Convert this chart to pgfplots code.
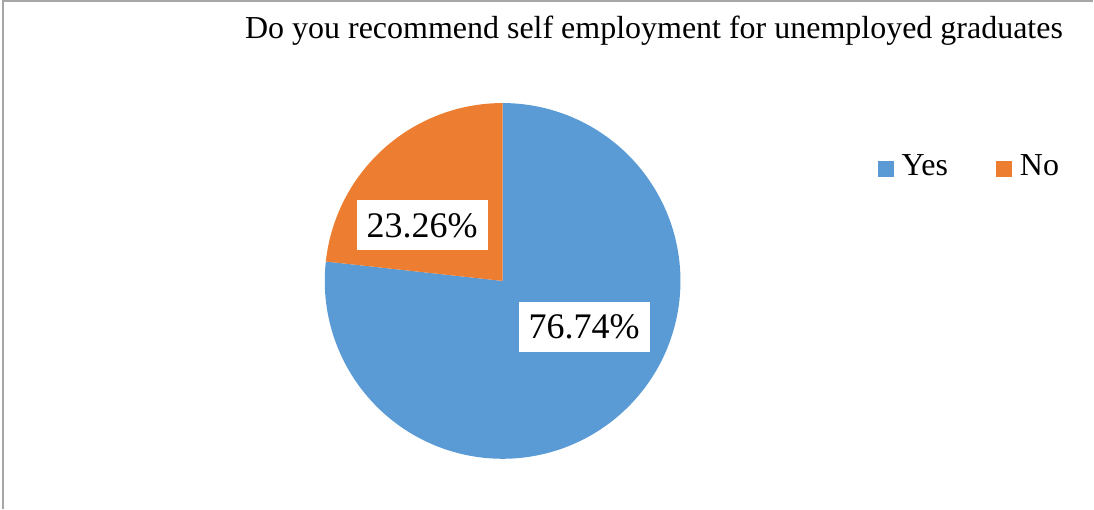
\documentclass[border=0pt]{standalone}
\usepackage{pgfplots}
\pgfplotsset{compat=1.18}
\usepackage{pgfplotstable}
\usepackage{fontspec}
\setmainfont{Liberation Serif}
\definecolor{pieblue}{HTML}{5B9BD5}
\definecolor{pieorange}{HTML}{ED7D31}
\definecolor{framegray}{HTML}{A6A6A6}
\pgfplotstableread{
label value
Yes 76.74
No 23.26
}\piedata
\pgfplotstablegetelem{0}{value}\of\piedata
\let\yesval\pgfplotsretval
\pgfplotstablegetelem{1}{value}\of\piedata
\let\noval\pgfplotsretval
\pgfmathsetmacro{\yesend}{90-3.6*\yesval}
\pgfmathsetmacro{\noend}{\yesend-3.6*\noval}
\begin{document}
\begin{tikzpicture}
\begin{axis}[
  scale only axis, width=1094pt, height=509pt,
  xmin=0, xmax=1094, ymin=0, ymax=509,
  hide axis, clip=false,
  legend columns=2,
  legend style={at={(axis cs:878,343)}, anchor=west, draw=none, fill=none,
    inner sep=0pt, font=\fontsize{32}{38}\selectfont,
    nodes={inner sep=0pt, anchor=base west},
    /tikz/every odd column/.append style={column sep=8pt},
    /tikz/every even column/.append style={column sep=48pt}},
  legend image code/.code={\fill[#1] (0pt,-1pt) rectangle (16pt,15pt);},
]
\path (axis cs:0,0) rectangle (axis cs:1094,509);
\draw[framegray, line width=1.7pt] (axis cs:3.2,0) -- (axis cs:3.2,508.3) -- (axis cs:1094,508.3);
\addplot[fill=pieblue, draw=none, domain=\yesend:90, samples=240, variable=\t]
  ({503+178*cos(t)}, {228+178*sin(t)}) -- (axis cs:503,228) -- cycle;
\addlegendentry{Yes}
\addplot[fill=pieorange, draw=none, domain=\noend:\yesend, samples=120, variable=\t]
  ({503+178*cos(t)}, {228+178*sin(t)}) -- (axis cs:503,228) -- cycle;
\addlegendentry{No}
\node[fill=white, inner sep=0pt, minimum width=131pt, minimum height=50pt,
  font=\fontsize{36}{40}\selectfont] at (axis cs:422.5,283.5) {23.26\%};
\node[fill=white, inner sep=0pt, minimum width=131pt, minimum height=50pt,
  font=\fontsize{36}{40}\selectfont] at (axis cs:584.5,182) {76.74\%};
\node[anchor=base, font=\fontsize{32}{38}\selectfont] at (axis cs:654.5,471) {Do you recommend self employment for unemployed graduates};
\end{axis}
\end{tikzpicture}
\end{document}
